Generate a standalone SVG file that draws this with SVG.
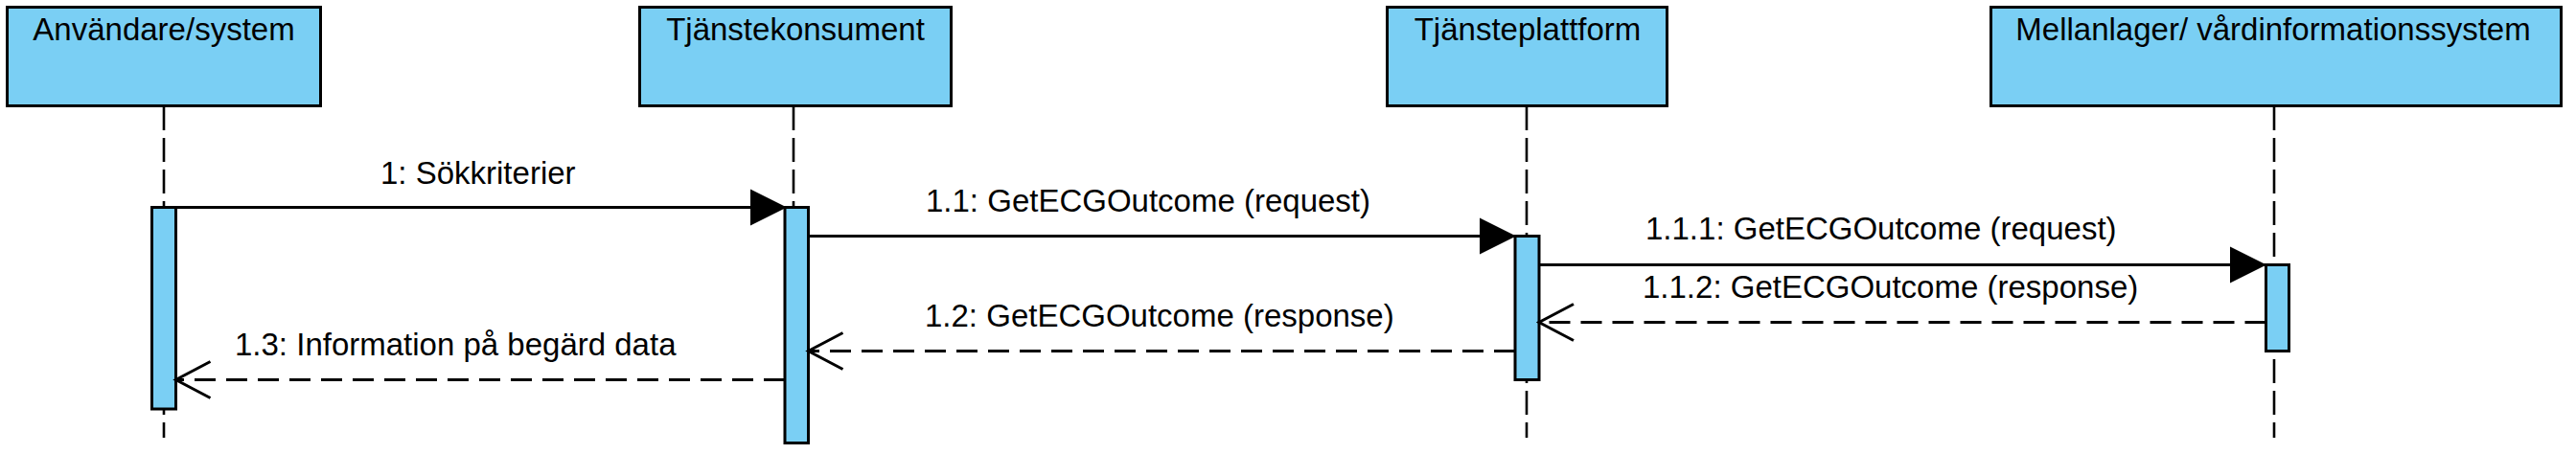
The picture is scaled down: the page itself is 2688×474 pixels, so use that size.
<svg xmlns="http://www.w3.org/2000/svg" width="2688" height="474" viewBox="0 0 2688 474">
<style>
.box{fill:#7ACFF4;stroke:#000;stroke-width:3}
.act{fill:#7ACFF4;stroke:#000;stroke-width:3}
.life{stroke:#000;stroke-width:2.6;stroke-dasharray:25 8;fill:none}
.msg{stroke:#000;stroke-width:3;fill:none}
.ret{stroke:#000;stroke-width:3;fill:none;stroke-dasharray:22 11}
.t{font-family:"Liberation Sans",Arial,sans-serif;font-size:33px;fill:#000}
.c{text-anchor:middle}
</style>
<defs>
<marker id="filled" markerUnits="userSpaceOnUse" markerWidth="40" markerHeight="40" refX="38" refY="19" orient="auto" overflow="visible">
<path d="M0,0 L38,19 L0,38 Z" fill="#000"/>
</marker>
<marker id="open" markerUnits="userSpaceOnUse" markerWidth="40" markerHeight="40" refX="36" refY="19" orient="auto" overflow="visible">
<path d="M0,0 L36,19 L0,38" fill="none" stroke="#000" stroke-width="3"/>
</marker>
</defs>
<g id="lifelines">
<line class="life" x1="171" y1="111" x2="171" y2="457"/>
<line class="life" x1="828" y1="111" x2="828" y2="457"/>
<line class="life" x1="1593" y1="111" x2="1593" y2="457"/>
<line class="life" x1="2373" y1="111" x2="2373" y2="457"/>
</g>
<g id="node-anvandare">
<rect class="box" x="7.5" y="7.5" width="327" height="103"/>
<text class="t c" x="171" y="42">Användare/system</text>
<rect class="act" x="158.5" y="216.5" width="25" height="210.5"/>
</g>
<g id="node-tjanstekonsument">
<rect class="box" x="667.5" y="7.5" width="325" height="103"/>
<text class="t c" x="830" y="42">Tjänstekonsument</text>
<rect class="act" x="819" y="216.5" width="24.5" height="246"/>
</g>
<g id="node-tjansteplattform">
<rect class="box" x="1447.5" y="7.5" width="292" height="103"/>
<text class="t c" x="1594" y="42">Tjänsteplattform</text>
<rect class="act" x="1581" y="246.5" width="25" height="150"/>
</g>
<g id="node-mellanlager">
<rect class="box" x="2077.5" y="7.5" width="595" height="103"/>
<text class="t c" x="2372" y="42">Mellanlager/ vårdinformationssystem</text>
<rect class="act" x="2364.5" y="276.5" width="24" height="90"/>
</g>
<g id="connectors">
<line class="msg" x1="183.5" y1="216.5" x2="821" y2="216.5" marker-end="url(#filled)"/>
<text class="t" x="397" y="192">1: Sökkriterier</text>
<line class="msg" x1="843.5" y1="246.5" x2="1582" y2="246.5" marker-end="url(#filled)"/>
<text class="t" x="966" y="221">1.1: GetECGOutcome (request)</text>
<line class="msg" x1="1606" y1="276.5" x2="2365" y2="276.5" marker-end="url(#filled)"/>
<text class="t" x="1717" y="250">1.1.1: GetECGOutcome (request)</text>
<line class="ret" x1="2364.5" y1="336.5" x2="1606" y2="336.5" marker-end="url(#open)"/>
<text class="t" x="1714" y="311">1.1.2: GetECGOutcome (response)</text>
<line class="ret" x1="1581" y1="366.5" x2="843.5" y2="366.5" marker-end="url(#open)"/>
<text class="t" x="965" y="341">1.2: GetECGOutcome (response)</text>
<line class="ret" x1="819" y1="396.5" x2="183.5" y2="396.5" marker-end="url(#open)"/>
<text class="t" x="245" y="371">1.3: Information på begärd data</text>
</g>
</svg>
